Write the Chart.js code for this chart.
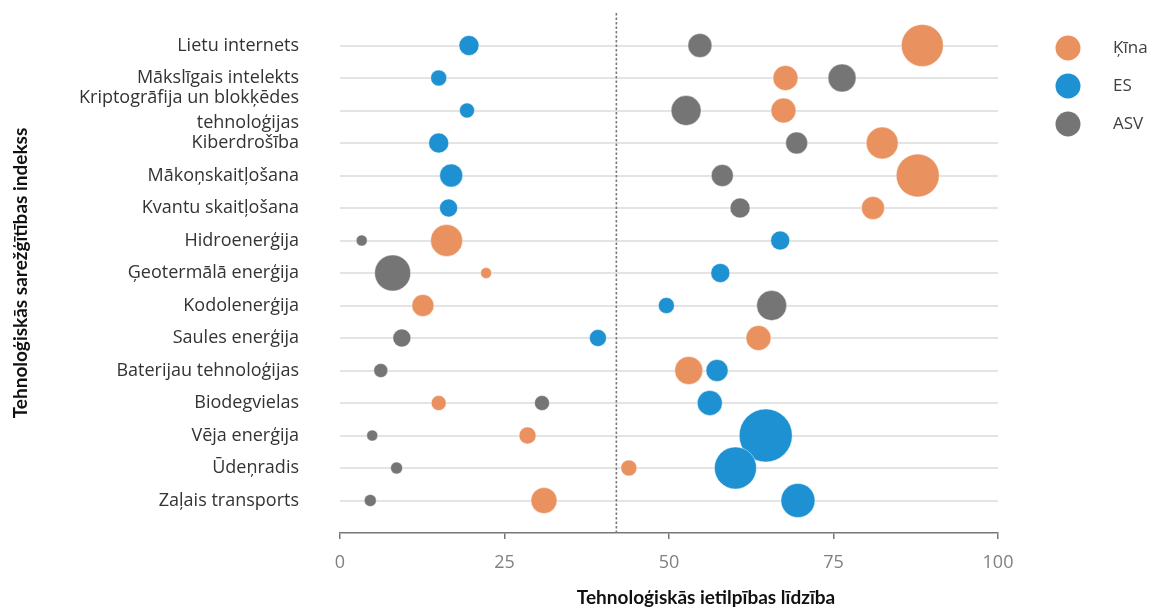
<!DOCTYPE html>
<html><head><meta charset="utf-8">
<script src="https://cdn.jsdelivr.net/npm/chart.js@4/dist/chart.umd.min.js"></script>
<style>html,body{margin:0;padding:0;background:#fff}#wrap{width:1150px;height:610px}canvas{display:block}</style>
</head><body><div id="wrap"><canvas id="c" width="1150" height="610" style="width:1150px;height:610px"></canvas></div>
<script>
// ---- data ----
const categories = [
  'Lietu internets',
  'Mākslīgais intelekts',
  ['Kriptogrāfija un blokķēdes', 'tehnoloģijas'],
  'Kiberdrošība',
  'Mākoņskaitļošana',
  'Kvantu skaitļošana',
  'Hidroenerģija',
  'Ģeotermālā enerģija',
  'Kodolenerģija',
  'Saules enerģija',
  'Baterijau tehnoloģijas',
  'Biodegvielas',
  'Vēja enerģija',
  'Ūdeņradis',
  'Zaļais transports'
];
const seriesNames = ['Ķīna', 'ES', 'ASV'];
const chinaX    = [88.5, 67.7, 67.4, 82.4, 87.8, 81.0, 16.2, 22.2, 12.6, 63.6, 53.0, 15.0, 28.5, 43.9, 31.0];
const chinaSize = [21, 12.5, 12.5, 16, 21.5, 11.5, 16, 5.5, 11, 12.5, 14, 7.5, 8.5, 8, 13];
const euX       = [19.6, 15.0, 19.3, 15.0, 16.9, 16.5, 66.9, 57.8, 49.6, 39.2, 57.3, 56.2, 64.7, 60.1, 69.6];
const euSize    = [10, 8, 7.5, 10, 11.5, 9, 9.5, 9.5, 8, 8.5, 11, 12.5, 26.5, 21, 17];
const usX       = [54.7, 76.3, 52.6, 69.4, 58.1, 60.8, 3.3, 8.0, 65.6, 9.4, 6.2, 30.7, 4.9, 8.6, 4.6];
const usSize    = [12, 14, 15, 11, 11, 10, 5.5, 18, 15, 9, 7, 7.5, 5.5, 6, 6];
const xTicks = [0, 25, 50, 75, 100];
const thresholdX = 42;
const xTitle = 'Tehnoloģiskās ietilpības līdzība';
const yTitle = 'Tehnoloģiskās sarežģītības indekss';

// ---- styles ----
const colors = ['#EA925F', '#1D91D1', '#757575'];

function points(xs, sizes) {
  return categories.map((_, i) => ({ x: xs[i], y: i, r: sizes[i] }));
}

const customLegend = {
  id: 'customLegend',
  afterDraw(chart) {
    const ctx = chart.ctx;
    ctx.save();
    const ys = [48, 86, 124];
    chart.data.datasets.filter(d => d.type !== 'line').forEach((d, i) => {
      ctx.beginPath();
      ctx.fillStyle = d.backgroundColor;
      ctx.arc(1068, ys[i], 12.5, 0, Math.PI * 2);
      ctx.fill();
      ctx.fillStyle = '#404040';
      ctx.font = '17px "Open Sans"';
      ctx.textBaseline = 'middle';
      ctx.textAlign = 'left';
      ctx.fillText(d.label, 1113, ys[i]);
    });
    ctx.font = 'bold 19px Lato';
    ctx.fillStyle = '#111';
    ctx.textAlign = 'center';
    ctx.textBaseline = 'middle';
    ctx.fillText(xTitle, 706, 598);
    ctx.restore();
  }
};

new Chart(document.getElementById('c'), {
  type: 'bubble',
  data: {
    datasets: [
      { label: seriesNames[0], data: points(chinaX, chinaSize), backgroundColor: colors[0], borderColor: 'rgba(255,255,255,0.45)', borderWidth: 1 },
      { label: seriesNames[1], data: points(euX, euSize), backgroundColor: colors[1], borderColor: 'rgba(255,255,255,0.45)', borderWidth: 1 },
      { label: seriesNames[2], data: points(usX, usSize), backgroundColor: colors[2], borderColor: 'rgba(255,255,255,0.45)', borderWidth: 1 },
      { type: 'line', label: 'threshold', order: 10, data: [{ x: thresholdX, y: -1 }, { x: thresholdX, y: 15 }],
        borderColor: '#7a7a7a', borderWidth: 1.6, borderDash: [2.5, 2], pointRadius: 0, fill: false }
    ]
  },
  options: {
    responsive: false,
    animation: false,
    events: [],
    layout: { autoPadding: false, padding: { top: 13, right: 152, bottom: 0, left: 0 } },
    plugins: { legend: { display: false }, tooltip: { enabled: false } },
    scales: {
      x: {
        type: 'linear', min: 0, max: 100,
        afterBuildTicks: s => { s.ticks = xTicks.map(v => ({ value: v })); },
        afterFit: s => { s.height = 77; s.paddingLeft = 0; s.paddingRight = 0; },
        grid: { display: true, drawOnChartArea: false, drawTicks: true, tickLength: 6, color: '#777', lineWidth: 1.5 },
        border: { display: true, color: '#777', width: 1.5 },
        ticks: { padding: 13, color: '#808080', font: { family: '"Open Sans"', size: 18 }, autoSkip: false, maxRotation: 0 },
        title: { display: false }
      },
      y: {
        type: 'linear', reverse: true, min: -1, max: 15,
        afterBuildTicks: s => { s.ticks = categories.map((_, i) => ({ value: i })); },
        afterFit: s => { s.width = 340; s.paddingTop = 0; s.paddingBottom = 0; },
        grid: { color: '#e4e4e4', lineWidth: 2, drawTicks: false },
        border: { display: false },
        ticks: { padding: 41, autoSkip: false, color: '#333', font: { family: '"Open Sans"', size: 18, lineHeight: 1.35 },
                 callback: v => categories[v] },
        title: { display: true, text: yTitle, color: '#111', font: { family: 'Lato', size: 19, weight: 'bold' }, padding: { top: 9, bottom: 0 } }
      }
    }
  },
  plugins: [customLegend]
});
</script>
</body></html>
